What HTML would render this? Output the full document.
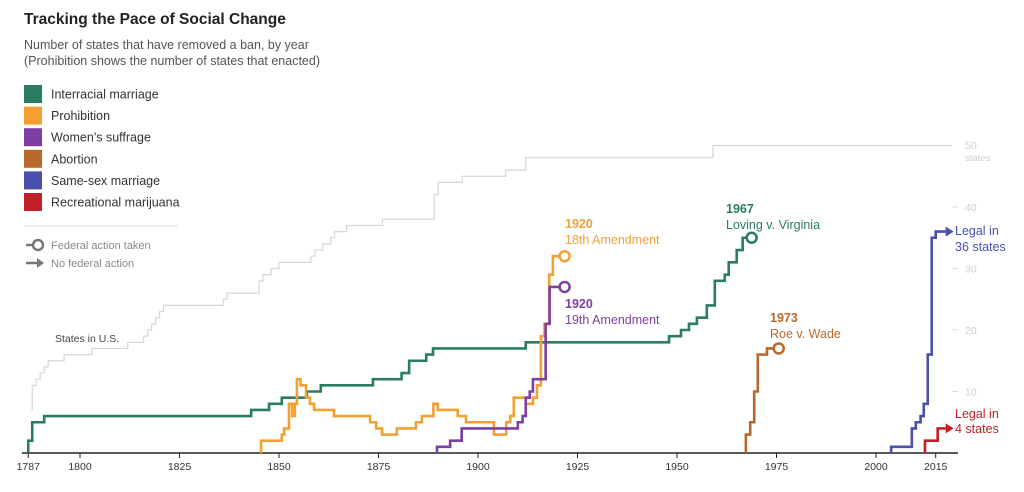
<!DOCTYPE html>
<html><head><meta charset="utf-8">
<style>
body{margin:0;background:#fff;font-family:"Liberation Sans",Arial,sans-serif;}
#wrap{position:relative;width:1024px;height:492px;overflow:hidden;}
.t{position:absolute;white-space:nowrap;}
</style></head>
<body>
<div id="wrap">
<div class="t" style="left:24px;top:11px;font-size:15.5px;font-weight:bold;color:#222;">Tracking the Pace of Social Change</div>
<div class="t" style="left:24px;top:37px;font-size:12.5px;color:#555;line-height:16px;">Number of states that have removed a ban, by year<br>(Prohibition shows the number of states that enacted)</div>
<svg id="chart" width="1024" height="492" style="position:absolute;left:0;top:0"></svg>
</div>
<script>
const legendLabels=["Interracial marriage","Prohibition","Women's suffrage","Abortion","Same-sex marriage","Recreational marijuana"];
const seriesColors=["#2a7d5f","#f3a033","#7d3fa3","#b8692b","#4a4fae","#c0202a"];
const xTicks=[1787,1800,1825,1850,1875,1900,1925,1950,1975,2000,2015];
const yTicks=[10,20,30,40];
const usStates=[[1787.5,7],[1788,11],[1789,12],[1790,13],[1791,14],[1792,15],[1796,16],[1803,17],[1812,18],[1816,19],[1817,20],[1818,21],[1819,22],[1820,23],[1821,24],[1836,25],[1837,26],[1845,28],[1846,29],[1848,30],[1850,31],[1858,32],[1859,33],[1861,34],[1863,35],[1864,36],[1867,37],[1876,38],[1889,42],[1890,44],[1896,45],[1907,46],[1912,48],[1959,50],[2019,50]];
const interracial=[[1787,2],[1788,5],[1791,6],[1843,7],[1847.5,8],[1850.7,9],[1857,10],[1860.5,11],[1873.6,12],[1880.8,13],[1882.7,15],[1887,16],[1888.7,17],[1912,18],[1948,19],[1951,20],[1953,21],[1955,22],[1957.5,24],[1959.5,28],[1962,29],[1963,31],[1965,33],[1966.5,35],[1967.5,35]];
const prohibition=[[1845.5,2],[1850.7,3],[1851.3,4],[1852.5,8],[1853.3,6],[1854,8],[1854.5,12],[1855.4,11],[1856.8,9],[1857.8,8],[1858.8,7],[1863.8,6],[1872.9,5],[1874.4,4],[1875.9,3],[1879.6,4],[1884.4,5],[1885.9,6],[1888.8,8],[1889.9,7],[1894.9,6],[1897,5],[1904,3],[1907.1,5],[1908.1,6],[1909,9],[1912,8],[1913.8,9],[1914.8,11],[1915.8,19],[1916.7,21],[1917.9,29],[1918.8,32],[1920.5,32]];
const suffrage=[[1889.7,1],[1893,2],[1895.9,4],[1910,5],[1911.2,6],[1912,9],[1913,10],[1913.8,12],[1917,21],[1918,27],[1920.5,27]];
const abortion=[[1967.3,3],[1968.4,5],[1969.4,10],[1970.3,16],[1972.6,17],[1974.3,17]];
const sameSex=[[2003.8,1],[2009,4],[2010,5],[2011.2,6],[2012,8],[2013,16],[2014,35],[2015,36],[2017.5,36]];
const marijuana=[[2012.3,2],[2015.5,4],[2017.5,4]];

const X=yr=>279+(yr-1850)*3.98;
const Y=v=>453-v*6.15;
const svg=document.getElementById('chart');
const NS="http://www.w3.org/2000/svg";
function mk(tag,attrs,parent){const e=document.createElementNS(NS,tag);for(const k in attrs)e.setAttribute(k,attrs[k]);(parent||svg).appendChild(e);return e;}
function stepPath(pts,startZero){let d="M"+X(pts[0][0])+" "+(startZero?Y(0):Y(pts[0][1]));for(const p of pts){d+=" H"+X(p[0])+" V"+Y(p[1]);}return d;}

// legend
legendLabels.forEach((lab,i)=>{
  const cy=94+i*21.6;
  const r=mk('rect',{x:24,y:cy-9,width:18,height:18,fill:seriesColors[i]});
  
  
  const t=mk('text',{x:51,y:cy+4.5,'font-size':12.5,fill:'#333'});t.textContent=lab;
  
  
});
const sep=mk('line',{x1:24,y1:226,x2:178,y2:226,stroke:'#ddd'});


const fa=mk('g',{});


mk('line',{x1:26,y1:245,x2:33,y2:245,stroke:'#777','stroke-width':2.5},fa);
mk('circle',{cx:38,cy:245,r:5,fill:'#fff',stroke:'#777','stroke-width':2.5},fa);
let t1=mk('text',{x:51,y:249,'font-size':11,fill:'#888'},fa);t1.textContent="Federal action taken";
const nf=mk('g',{});


mk('line',{x1:26,y1:263,x2:38,y2:263,stroke:'#777','stroke-width':2.5},nf);
mk('path',{d:'M37 258 L44 263 L37 268 Z',fill:'#777'},nf);
let t2=mk('text',{x:51,y:267,'font-size':11,fill:'#888'},nf);t2.textContent="No federal action";

// y ticks
yTicks.forEach(v=>{
  const g=mk('g',{});
  
  
  mk('line',{x1:952,y1:Y(v),x2:958,y2:Y(v),stroke:'#ddd'},g);
  const t=mk('text',{x:965,y:Y(v)+4,'font-size':10.5,fill:'#ccc'},g);t.textContent=v;
});
const l50=mk('text',{x:965,y:149,'font-size':10.5,fill:'#ccc'});l50.textContent="50";


const l50b=mk('text',{x:965,y:161,'font-size':9.5,fill:'#ccc'});l50b.textContent="states";



// US states line
const us=mk('path',{d:stepPath(usStates,false),fill:'none',stroke:'#d6d6d6','stroke-width':1.2});


const usl=mk('text',{x:55,y:342,'font-size':10.5,fill:'#444'});usl.textContent="States in U.S.";



// axis
const ax=mk('line',{x1:22,y1:453,x2:958,y2:453,stroke:'#222','stroke-width':1.5});


xTicks.forEach(yr=>{
  const g=mk('g',{});
  
  
  mk('line',{x1:X(yr),y1:453,x2:X(yr),y2:458,stroke:'#222'},g);
  const t=mk('text',{x:X(yr),y:470,'font-size':10.5,fill:'#333','text-anchor':'middle'},g);t.textContent=yr;
});

const series=[[interracial,'interracial-marriage-line',0,'circle'],[prohibition,'prohibition-line',1,'circle'],[suffrage,'womens-suffrage-line',2,'circle'],[abortion,'abortion-line',3,'circle'],[sameSex,'same-sex-marriage-line',4,'arrow'],[marijuana,'marijuana-line',5,'arrow']];
series.forEach(([pts,name,ci,end])=>{
  const col=seriesColors[ci];
  const p=mk('path',{d:stepPath(pts,true),fill:'none',stroke:col,'stroke-width':2.6});
  
  
  const last=pts[pts.length-1];
  if(end==='circle'){
    const c=mk('circle',{cx:X(last[0])+5,cy:Y(last[1]),r:5,fill:'#fff',stroke:col,'stroke-width':2.5});
    
    
  } else {
    const x=X(last[0]),y=Y(last[1]);
    const a=mk('path',{d:`M${x} ${y-5} L${x+8} ${y} L${x} ${y+5} Z`,fill:col});
    
    
  }
});

function ann(x,y,l1,l2,col,name){
  const g=mk('g',{});
  
  
  const a=mk('text',{x:x,y:y,'font-size':12.5,fill:col,'font-weight':'bold'},g);a.textContent=l1;
  const b=mk('text',{x:x,y:y+16,'font-size':12.5,fill:col},g);b.textContent=l2;
}
ann(565,228,"1920","18th Amendment","#f3a033","annotation-18th-amendment");
ann(565,308,"1920","19th Amendment","#7d3fa3","annotation-19th-amendment");
ann(726,213,"1967","Loving v. Virginia","#2a7d5f","annotation-loving");
ann(770,322,"1973","Roe v. Wade","#b8692b","annotation-roe");
const s1=mk('text',{x:955,y:235,'font-size':12.5,fill:'#4a4fae'});s1.textContent="Legal in";


const s2=mk('text',{x:955,y:251,'font-size':12.5,fill:'#4a4fae'});s2.textContent="36 states";


const m1=mk('text',{x:955,y:418,'font-size':12.5,fill:'#c0202a'});m1.textContent="Legal in";


const m2=mk('text',{x:955,y:433,'font-size':12.5,fill:'#c0202a'});m2.textContent="4 states";


</script>
</body></html>
